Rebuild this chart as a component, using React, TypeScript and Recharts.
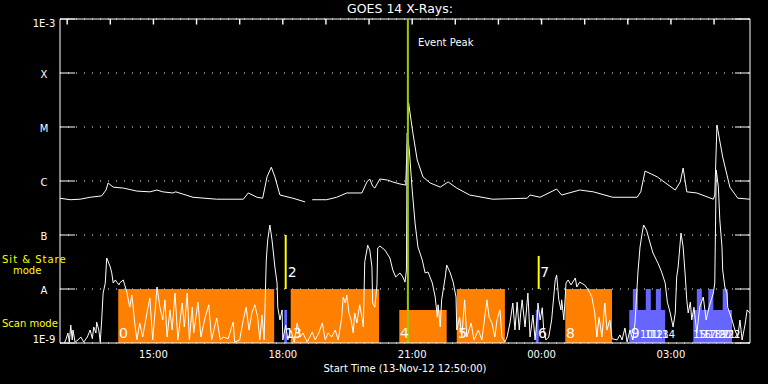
import React from "react";
import {
  CartesianGrid,
  ComposedChart,
  Line,
  ReferenceArea,
  ReferenceLine,
  Scatter,
  XAxis,
  YAxis,
} from "recharts";

// time axis: minutes after 12:50 UT (13-Nov-12)
const HOUR_TICKS = [10, 70, 130, 190, 250, 310, 370, 430, 490, 550, 610, 670, 730, 790, 850, 910];
const LABEL_TICKS = [130, 310, 490, 670, 850];
const LABEL_TEXT = ["15:00", "18:00", "21:00", "00:00", "03:00"];

const FLUX_TICKS = [1e-9, 1e-8, 1e-7, 1e-6, 1e-5, 1e-4, 1e-3];
const FLUX_TEXT = ["1E-9", "A", "B", "C", "M", "X", "1E-3"];

// GOES 1-8 A (long channel), [minute, W/m2]
const longChannel: [number, number | null][] = [
  [0, 4.8e-7], [14, 4.5e-7], [28, 4.6e-7], [42, 5.0e-7], [58, 5.3e-7], [64, 6.8e-7],
  [67, 9.2e-7], [74, 7.7e-7], [88, 7.4e-7], [107, 6.5e-7], [125, 6.3e-7], [135, 6.8e-7],
  [143, 6.3e-7], [157, 6.0e-7], [161, 6.3e-7], [185, 5.0e-7], [218, 4.6e-7], [255, 4.6e-7],
  [262, 6.0e-7], [274, 5.0e-7], [282, 4.8e-7], [288, 1.19e-6], [294, 1.8e-6], [299, 1.19e-6],
  [306, 5.5e-7], [324, 4.8e-7], [341, 4.1e-7], [345, null], [351, 4.5e-7], [371, 4.5e-7],
  [385, 5.0e-7], [399, 6.0e-7], [420, 6.0e-7], [427, 9.6e-7], [431, 1.09e-6], [435, 8.0e-7],
  [438, 7.4e-7], [445, 1.09e-6], [456, 1.04e-6], [463, 9.6e-7], [473, 8.8e-7], [481, 8.4e-7],
  [485, 2.8e-5], [491, 7.7e-6], [497, 2.45e-6], [505, 1.19e-6], [515, 9.2e-7], [529, 7.7e-7],
  [540, 9.6e-7], [552, 7.4e-7], [570, 5.5e-7], [602, 4.6e-7], [650, 4.8e-7], [654, 5.5e-7],
  [668, 5.0e-7], [691, 7.1e-7], [698, 5.5e-7], [723, 6.8e-7], [742, 6.3e-7], [769, 5.0e-7],
  [803, 5.0e-7], [808, 6.3e-7], [814, 1.53e-6], [831, 1.19e-6], [856, 6.8e-7], [863, 9.6e-7],
  [867, 1.74e-6], [872, 6.3e-7], [886, 6.0e-7], [909, 4.6e-7], [911, 5.5e-7], [914, 1.09e-5],
  [922, 2.78e-6], [932, 7.7e-7], [943, 4.8e-7], [960, 4.6e-7],
];

// GOES 0.5-4 A (short channel), [minute, W/m2]
const shortChannel: [number, number][] = [
  [6, 1.0e-9], [8, 1.14e-9], [11, 1.53e-9], [13, 1.04e-9], [15, 2.15e-9], [17, 1.14e-9],
  [18, 1.74e-9], [21, 1.04e-9], [25, 1.14e-9], [29, 1.29e-9], [33, 1.04e-9], [38, 1.29e-9],
  [42, 1.74e-9], [45, 1.2e-9], [47, 1.98e-9], [50, 1.53e-9], [51, 2.45e-9], [54, 1.74e-9],
  [56, 1.04e-9], [58, 2.67e-9], [60, 8.4e-9], [63, 1.29e-8], [65, 3.75e-8], [70, 2.55e-8],
  [72, 1.98e-8], [74, 1.29e-8], [77, 1.47e-8], [79, 1.34e-8], [82, 1.19e-8], [83, 1.29e-8],
  [88, 1.47e-8], [90, 1.19e-8], [93, 8.8e-9], [97, 4.6e-9], [100, 7.7e-9], [104, 2.35e-9],
  [107, 1.14e-9], [111, 2.35e-9], [115, 1.29e-9], [121, 3.6e-9], [125, 6.8e-9], [129, 1.14e-9],
  [135, 1.09e-8], [139, 4.6e-9], [143, 2.67e-9], [146, 6.3e-9], [149, 1.29e-9], [153, 4.1e-9],
  [156, 1.74e-9], [160, 8.4e-9], [164, 1.14e-9], [170, 5.5e-9], [173, 1.98e-9], [177, 8.4e-9],
  [180, 1.14e-9], [184, 4.6e-9], [186, 1.53e-9], [192, 5.7e-9], [196, 1.29e-9], [202, 3.0e-9],
  [207, 5.1e-9], [211, 1.14e-9], [218, 2.9e-9], [223, 1.14e-9], [227, 1.29e-9], [234, 1.2e-9],
  [241, 2.45e-9], [243, 1.04e-9], [250, 1.14e-9], [255, 2.67e-9], [259, 4.6e-9], [263, 1.74e-9],
  [267, 3.6e-9], [271, 5.1e-9], [275, 3.0e-9], [278, 1.14e-9], [281, 3.3e-9], [284, 1.14e-9],
  [287, 3.44e-8], [289, 8.1e-8], [292, 1.53e-7], [295, 8.1e-8], [299, 2.55e-8], [302, 1.29e-8],
  [303, 4.6e-9], [306, 2.67e-9], [309, 4.1e-9], [310, 1.14e-9], [314, 2.15e-9], [317, 1.14e-9],
  [321, 1.74e-9], [326, 1.04e-9], [330, 2.35e-9], [334, 1.29e-9], [338, 1.53e-9], [344, 1.04e-9],
  [351, 1.6e-9], [355, 1.14e-9], [360, 1.53e-9], [365, 2.35e-9], [369, 1.14e-9], [373, 1.53e-9],
  [378, 1.29e-9], [383, 1.74e-9], [387, 1.14e-9], [390, 1.98e-9], [392, 3.0e-9], [394, 7.1e-9],
  [397, 5.5e-9], [399, 7.7e-9], [402, 3.6e-9], [405, 2.67e-9], [408, 1.53e-9], [410, 3.6e-9],
  [413, 2.35e-9], [417, 5.1e-9], [420, 3.0e-9], [422, 1.98e-9], [424, 3.2e-8], [427, 5.27e-8],
  [428, 6.5e-8], [431, 5.27e-8], [434, 2.55e-8], [435, 5.5e-9], [438, 4.6e-9], [441, 1.19e-8],
  [442, 5.74e-8], [445, 6.25e-8], [452, 5.27e-8], [459, 3.75e-8], [463, 2.25e-8], [467, 1.67e-8],
  [473, 1.98e-8], [477, 1.67e-8], [480, 1.34e-8], [482, 2.25e-8], [483, 7.7e-6], [486, 3.75e-6],
  [490, 6.8e-7], [494, 1.67e-7], [498, 6.0e-8], [504, 3.44e-8], [508, 1.98e-8], [512, 2.07e-8],
  [518, 1.29e-8], [522, 7.1e-9], [525, 3.0e-9], [526, 5.1e-9], [529, 1.98e-9], [531, 6.3e-9],
  [536, 1.67e-8], [538, 2.78e-8], [543, 1.98e-8], [547, 1.34e-8], [551, 7.1e-9], [552, 1.74e-9],
  [556, 3.0e-9], [559, 1.29e-9], [563, 6.3e-9], [566, 1.29e-9], [572, 2.35e-9], [576, 1.14e-9],
  [582, 1.74e-9], [587, 1.14e-9], [594, 6.3e-9], [597, 3.0e-9], [601, 2.35e-9], [605, 1.29e-9],
  [608, 2.67e-9], [612, 4.1e-9], [615, 1.29e-9], [619, 1.04e-9], [622, 1.29e-9], [626, 2.35e-9],
  [630, 5.5e-9], [633, 1.74e-9], [636, 5.7e-9], [639, 1.74e-9], [641, 3.6e-9], [643, 6.3e-9],
  [647, 1.98e-9], [651, 8.4e-9], [654, 1.29e-9], [658, 3.3e-9], [661, 1.14e-9], [664, 3.0e-9],
  [665, 5.5e-9], [668, 2.67e-9], [671, 4.5e-9], [673, 1.74e-9], [676, 1.14e-9], [680, 1.29e-9],
  [684, 2.67e-9], [689, 1.47e-8], [691, 1.82e-8], [694, 6.3e-9], [697, 4.1e-9], [698, 6.3e-9],
  [701, 2.67e-9], [704, 1.29e-8], [707, 1.47e-8], [711, 1.19e-8], [717, 1.6e-8], [719, 1.09e-8],
  [723, 1.34e-8], [730, 1.19e-8], [735, 9.6e-9], [740, 7.1e-9], [744, 3.6e-9], [747, 1.29e-9],
  [750, 3.0e-9], [754, 1.29e-9], [758, 5.5e-9], [761, 1.74e-9], [765, 2.67e-9], [768, 1.2e-9],
  [775, 1.14e-9], [779, 1.41e-9], [782, 1.14e-9], [786, 1.9e-9], [789, 1.04e-9], [793, 1.74e-9],
  [797, 1.14e-9], [800, 2.35e-9], [804, 1.98e-8], [807, 6.0e-8], [810, 1.09e-7], [812, 1.53e-7],
  [816, 1.23e-7], [821, 7.1e-8], [825, 4.64e-8], [832, 3.0e-8], [837, 2.07e-8], [842, 1.29e-8],
  [845, 5.7e-9], [849, 3.6e-9], [853, 1.98e-9], [856, 3.6e-9], [858, 1.67e-8], [860, 2.55e-8],
  [864, 1.09e-7], [867, 6.0e-8], [870, 1.67e-8], [872, 6.3e-9], [874, 3.6e-9], [877, 5.7e-9],
  [879, 2.67e-9], [882, 4.6e-9], [886, 1.53e-9], [890, 4.6e-9], [895, 7.1e-9], [899, 2.67e-9],
  [903, 4.6e-9], [909, 8.4e-9], [911, 1.29e-8], [913, 1.6e-6], [916, 7.7e-7], [918, 1.9e-7],
  [921, 6.0e-8], [922, 2.25e-8], [925, 1.09e-8], [928, 8.4e-9], [929, 4.6e-9], [935, 2.67e-9],
  [939, 1.74e-9], [943, 1.29e-9], [946, 2.67e-9], [949, 1.14e-9], [953, 2.15e-9], [956, 4.1e-9],
  [960, 3.6e-9],
];

// scan mode windows (orange)
const scanFrom = [81, 321, 472, 552, 703];
const scanTo = [298, 444, 538, 619, 768];
const scanTop = [1e-8, 1e-8, 4.1e-9, 1e-8, 1e-8];

// sit & stare pointings (blue)
const stareFrom = [312, 662, 792, 797, 815, 829, 881, 886, 902, 922];
const stareTo = [316, 666, 842, 804, 822, 836, 935, 893, 909, 929];
const stareTop = [4.1e-9, 4.1e-9, 4.1e-9, 1e-8, 1e-8, 1e-8, 4.1e-9, 1e-8, 1e-8, 1e-8];

// yellow markers
const markT = [314, 666];
const markTop = [1e-7, 4.1e-8];

const EVENT_PEAK = 484;

// numbered observations
const obsName = ["0", "1", "2", "3", "4", "5", "6", "7", "8", "9", "10", "11", "12", "13", "14", "15", "16", "17", "18", "19", "20", "21", "22"];
const obsT = [82, 313, 317, 324, 473, 554, 665, 668, 704, 794, 807, 814, 821, 829, 838, 881, 888, 895, 902, 909, 916, 922, 929];
const obsV = [1.53e-9, 1.53e-9, 2.07e-8, 1.53e-9, 1.53e-9, 1.53e-9, 1.53e-9, 2.07e-8, 1.53e-9, 1.53e-9, 1.53e-9, 1.53e-9, 1.53e-9, 1.53e-9, 1.53e-9, 1.53e-9, 1.53e-9, 1.53e-9, 1.53e-9, 1.53e-9, 1.53e-9, 1.53e-9, 1.53e-9];

const FONT = "DejaVu Sans";

const longData = longChannel.map(([t, v]) => ({ t, v }));
const shortData = shortChannel.map(([t, v]) => ({ t, v }));
const obsData = obsT.map((t, i) => ({ t, v: obsV[i], n: obsName[i] }));

function fluxIndex(v: number) {
  return FLUX_TICKS.findIndex((f) => Math.abs(Math.log10(f) - Math.log10(v)) < 0.01);
}

function LeftTick({ x, y, payload }: any) {
  const i = fluxIndex(payload.value);
  const dy = i === FLUX_TICKS.length - 1 ? 8 : i === 0 ? 0 : 4.5;
  return (
    <g>
      <line x1={x + 16} x2={x + 31} y1={y} y2={y} stroke="#fff" />
      <text x={x} y={y + dy} textAnchor="middle" fill="#fff" fontSize={10} fontFamily={FONT}>
        {FLUX_TEXT[i]}
      </text>
    </g>
  );
}

function RightTick({ x, y }: any) {
  return <line x1={x - 15} x2={x} y1={y} y2={y} stroke="#fff" />;
}

function BottomTick({ x, y, payload }: any) {
  const i = LABEL_TICKS.indexOf(payload.value);
  return (
    <text x={x} y={y + 15} textAnchor="middle" fill="#fff" fontSize={10} fontFamily={FONT}>
      {LABEL_TEXT[i]}
    </text>
  );
}

function ObsLabel(p: any) {
  const long = String(p.payload.n).length > 1;
  return (
    <text x={p.cx} y={p.cy + 5} fill="#fff" fontSize={long ? 10 : 14} fontFamily={FONT}>
      {p.payload.n}
    </text>
  );
}

function PeakLabel(p: any) {
  const vb = p.viewBox || {};
  return (
    <text x={vb.x + 10} y={vb.y + 27} fill="#fff" fontSize={10} fontFamily={FONT}>
      Event Peak
    </text>
  );
}

export default function App() {
  return (
    <div style={{ position: "absolute", left: 0, top: 0, width: 768, height: 384, background: "#000" }}>
      <ComposedChart width={768} height={384} margin={{ top: 19, right: 0, bottom: 0, left: 0 }}>
        <CartesianGrid vertical={false} stroke="#fff" strokeDasharray="1 7" />
        <XAxis
          type="number"
          dataKey="t"
          domain={[0, 960]}
          ticks={LABEL_TICKS}
          interval={0}
          height={41}
          tickSize={0}
          tickMargin={0}
          tickLine={false}
          tick={<BottomTick />}
          axisLine={{ stroke: "#fff" }}
          allowDataOverflow
        />
        <YAxis
          dataKey="v"
          scale="log"
          domain={[1e-9, 1e-3]}
          ticks={FLUX_TICKS}
          interval={0}
          width={60}
          tickSize={0}
          tickMargin={16}
          tickLine={false}
          tick={<LeftTick />}
          axisLine={{ stroke: "#fff" }}
          allowDataOverflow
        />
        <YAxis
          yAxisId="r"
          orientation="right"
          dataKey="v"
          scale="log"
          domain={[1e-9, 1e-3]}
          ticks={FLUX_TICKS}
          interval={0}
          width={18}
          tickSize={0}
          tickMargin={0}
          tickLine={false}
          tick={<RightTick />}
          axisLine={{ stroke: "#fff" }}
          allowDataOverflow
        />

        <ReferenceLine y={1e-3} stroke="#fff" strokeWidth={1} />
        {/* hourly ticks hanging from the top frame */}
        {HOUR_TICKS.map((t) => (
          <ReferenceArea
            key={`h${t}`}
            x1={t - 1}
            x2={t + 1}
            y1={7.9e-4}
            y2={1e-3}
            fill="#fff"
            fillOpacity={1}
            stroke="none"
            ifOverflow="visible"
          />
        ))}

        {scanFrom.map((f, i) => (
          <ReferenceArea
            key={`scan${i}`}
            x1={f}
            x2={scanTo[i]}
            y1={1e-9}
            y2={scanTop[i]}
            fill="#ff8000"
            fillOpacity={1}
            stroke="none"
          />
        ))}
        {stareFrom.map((f, i) => (
          <ReferenceArea
            key={`stare${i}`}
            x1={f}
            x2={stareTo[i]}
            y1={1e-9}
            y2={stareTop[i]}
            fill="#6666ff"
            fillOpacity={1}
            stroke="none"
          />
        ))}

        <Line
          data={longData}
          dataKey="v"
          type="linear"
          stroke="#fff"
          strokeWidth={1}
          dot={false}
          activeDot={false}
          isAnimationActive={false}
        />
        <Line
          data={shortData}
          dataKey="v"
          type="linear"
          stroke="#fff"
          strokeWidth={1}
          dot={false}
          activeDot={false}
          isAnimationActive={false}
        />

        {markT.map((t, i) => (
          <ReferenceLine
            key={`mark${i}`}
            segment={[
              { x: t, y: 1e-8 },
              { x: t, y: markTop[i] },
            ]}
            stroke="#ffff00"
            strokeWidth={2}
          />
        ))}
        <ReferenceLine x={EVENT_PEAK} stroke="#99cc00" strokeWidth={2} label={PeakLabel} />

        <Scatter data={obsData} dataKey="v" shape={ObsLabel} isAnimationActive={false} />
      </ComposedChart>

      <svg
        width={768}
        height={384}
        style={{ position: "absolute", left: 0, top: 0, pointerEvents: "none" }}
        fontFamily={FONT}
      >
        <text x={400} y={13} textAnchor="middle" fill="#fff" fontSize={12.5}>
          GOES 14 X-Rays:
        </text>
        <text x={405} y={372} textAnchor="middle" fill="#fff" fontSize={10}>
          Start Time (13-Nov-12 12:50:00)
        </text>
        <text x={2} y={263} fill="#ffff00" fontSize={10} letterSpacing={1}>
          Sit &amp; Stare
        </text>
        <text x={13} y={274} fill="#ffff00" fontSize={10}>
          mode
        </text>
        <text x={2} y={327} fill="#ffff00" fontSize={10}>
          Scan mode
        </text>
      </svg>
    </div>
  );
}
